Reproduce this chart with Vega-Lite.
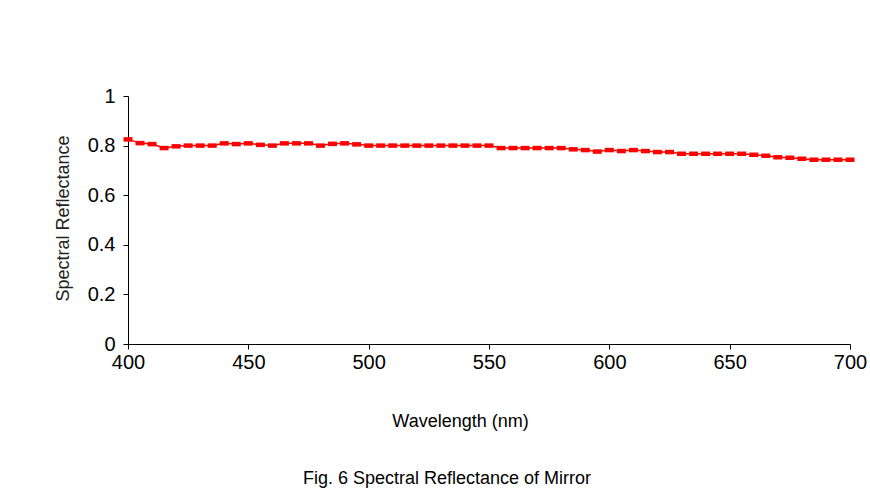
{
  "$schema": "https://vega.github.io/schema/vega-lite/v6.json",
  "width": 722,
  "height": 248,
  "autosize": {"type": "none"},
  "padding": {"left": 128, "top": 96, "right": 20, "bottom": 160},
  "background": "white",
  "config": {"view": {"stroke": null}, "font": "Liberation Sans"},
  "title": {"text": "Fig. 6 Spectral Reflectance of Mirror", "orient": "bottom", "anchor": "middle", "dx": -42, "offset": 40, "fontSize": 18, "fontWeight": "normal", "color": "#000000", "font": "Liberation Sans"},
  "data": {"values": [
    {"wavelength": 400, "reflectance": 0.825},
    {"wavelength": 405, "reflectance": 0.81},
    {"wavelength": 410, "reflectance": 0.806},
    {"wavelength": 415, "reflectance": 0.79},
    {"wavelength": 420, "reflectance": 0.797},
    {"wavelength": 425, "reflectance": 0.8},
    {"wavelength": 430, "reflectance": 0.8},
    {"wavelength": 435, "reflectance": 0.8},
    {"wavelength": 440, "reflectance": 0.809},
    {"wavelength": 445, "reflectance": 0.806},
    {"wavelength": 450, "reflectance": 0.809},
    {"wavelength": 455, "reflectance": 0.803},
    {"wavelength": 460, "reflectance": 0.8},
    {"wavelength": 465, "reflectance": 0.809},
    {"wavelength": 470, "reflectance": 0.809},
    {"wavelength": 475, "reflectance": 0.809},
    {"wavelength": 480, "reflectance": 0.8},
    {"wavelength": 485, "reflectance": 0.807},
    {"wavelength": 490, "reflectance": 0.809},
    {"wavelength": 495, "reflectance": 0.805},
    {"wavelength": 500, "reflectance": 0.8},
    {"wavelength": 505, "reflectance": 0.8},
    {"wavelength": 510, "reflectance": 0.8},
    {"wavelength": 515, "reflectance": 0.8},
    {"wavelength": 520, "reflectance": 0.8},
    {"wavelength": 525, "reflectance": 0.8},
    {"wavelength": 530, "reflectance": 0.8},
    {"wavelength": 535, "reflectance": 0.8},
    {"wavelength": 540, "reflectance": 0.8},
    {"wavelength": 545, "reflectance": 0.8},
    {"wavelength": 550, "reflectance": 0.8},
    {"wavelength": 555, "reflectance": 0.79},
    {"wavelength": 560, "reflectance": 0.79},
    {"wavelength": 565, "reflectance": 0.79},
    {"wavelength": 570, "reflectance": 0.79},
    {"wavelength": 575, "reflectance": 0.79},
    {"wavelength": 580, "reflectance": 0.79},
    {"wavelength": 585, "reflectance": 0.785},
    {"wavelength": 590, "reflectance": 0.782},
    {"wavelength": 595, "reflectance": 0.776},
    {"wavelength": 600, "reflectance": 0.782},
    {"wavelength": 605, "reflectance": 0.778},
    {"wavelength": 610, "reflectance": 0.782},
    {"wavelength": 615, "reflectance": 0.778},
    {"wavelength": 620, "reflectance": 0.774},
    {"wavelength": 625, "reflectance": 0.774},
    {"wavelength": 630, "reflectance": 0.767},
    {"wavelength": 635, "reflectance": 0.767},
    {"wavelength": 640, "reflectance": 0.767},
    {"wavelength": 645, "reflectance": 0.767},
    {"wavelength": 650, "reflectance": 0.767},
    {"wavelength": 655, "reflectance": 0.767},
    {"wavelength": 660, "reflectance": 0.763},
    {"wavelength": 665, "reflectance": 0.759},
    {"wavelength": 670, "reflectance": 0.753},
    {"wavelength": 675, "reflectance": 0.751},
    {"wavelength": 680, "reflectance": 0.747},
    {"wavelength": 685, "reflectance": 0.743},
    {"wavelength": 690, "reflectance": 0.743},
    {"wavelength": 695, "reflectance": 0.743},
    {"wavelength": 700, "reflectance": 0.743}
  ]},
  "encoding": {
    "x": {
      "field": "wavelength", "type": "quantitative",
      "scale": {"domain": [400, 700], "nice": false, "zero": false},
      "axis": {
        "values": [400, 450, 500, 550, 600, 650, 700],
        "title": "Wavelength (nm)", "grid": false,
        "tickSize": 5, "tickColor": "#000000", "domainColor": "#000000",
        "labelFontSize": 20, "labelColor": "#000000", "labelPadding": 3, "labelFont": "Liberation Sans",
        "labelFlush": false, "labelOverlap": false, "labelBound": false,
        "titleFontSize": 18, "titleFontWeight": "normal", "titleColor": "#000000", "titleFont": "Liberation Sans",
        "titleX": 332, "titleY": 68
      }
    },
    "y": {
      "field": "reflectance", "type": "quantitative",
      "scale": {"domain": [0, 1], "nice": false},
      "axis": {
        "values": [0, 0.2, 0.4, 0.6, 0.8, 1], "format": "~g",
        "title": "Spectral Reflectance", "grid": false,
        "tickSize": 5, "tickColor": "#000000", "domainColor": "#000000",
        "labelFontSize": 20, "labelColor": "#000000", "labelPadding": 8, "labelFont": "Liberation Sans",
        "labelFlush": false, "labelOverlap": false, "labelBound": false,
        "titleFontSize": 18, "titleFontWeight": "normal", "titleColor": "#222222", "titleFont": "Liberation Sans",
        "titleX": -65, "titleY": 122, "titleBaseline": "middle", "titleAngle": -90
      }
    }
  },
  "layer": [
    {"mark": {"type": "line", "color": "#FF0000", "strokeWidth": 1.5}},
    {"mark": {"type": "point", "shape": "M-1,-0.5L1,-0.5L1,0.5L-1,0.5Z", "filled": true, "color": "#FF0000", "size": 81, "opacity": 1, "strokeWidth": 0}}
  ]
}
